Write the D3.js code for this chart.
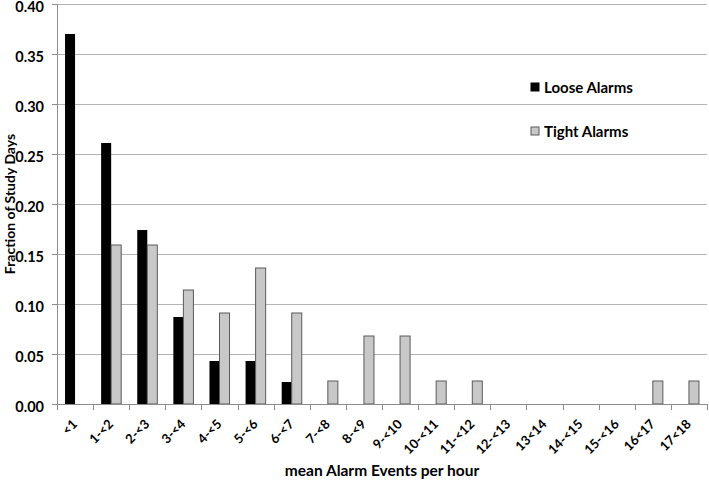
<!DOCTYPE html>
<html>
<head>
<meta charset="utf-8">
<script src="https://cdn.jsdelivr.net/npm/d3@7"></script>
<style>
  body { margin: 0; background: #fff; }
  text { font-family: Lato, "Open Sans", sans-serif; font-weight: bold; fill: #000; }
</style>
</head>
<body>
<script>
var categories = ["<1", "1-<2", "2-<3", "3-<4", "4-<5", "5-<6", "6-<7", "7-<8", "8-<9", "9-<10",
    "10-<11", "11-<12", "12-<13", "13<14", "14-<15", "15-<16", "16<17", "17<18"];
var looseAlarms = [0.370, 0.261, 0.174, 0.087, 0.043, 0.043, 0.022, 0, 0, 0, 0, 0, 0, 0, 0, 0, 0, 0];
var tightAlarms = [0, 0.159, 0.159, 0.114, 0.091, 0.136, 0.091, 0.023, 0.068, 0.068, 0.023, 0.023, 0, 0, 0, 0, 0.023, 0.023];
var seriesNames = ["Loose Alarms", "Tight Alarms"];
var yTicks = [0, 0.05, 0.10, 0.15, 0.20, 0.25, 0.30, 0.35, 0.40];

var margin = { top: 4, right: 2, bottom: 76, left: 57 },
    width = 709 - margin.left - margin.right,
    height = 480 - margin.top - margin.bottom;

var svg = d3.select("body").append("svg")
    .attr("width", 709)
    .attr("height", 480)
    .append("g")
    .attr("transform", "translate(" + margin.left + "," + margin.top + ")");

var xScale = d3.scaleBand().domain(categories).range([0, width]).paddingInner(0).paddingOuter(0);
var xSub = d3.scaleBand().domain(seriesNames).range([0, xScale.bandwidth()]).paddingInner(0).paddingOuter(0.8);
var yScale = d3.scaleLinear().domain([0, 0.4]).range([height, 0]);

// gridlines
svg.append("g").selectAll("line")
    .data(yTicks.slice(1))
    .enter().append("line")
    .attr("x1", 0).attr("x2", width)
    .attr("y1", function (d) { return Math.round(yScale(d)) + 0.5; })
    .attr("y2", function (d) { return Math.round(yScale(d)) + 0.5; })
    .style("stroke", "#b4b4b4");

// y axis
var yAxis = d3.axisLeft(yScale).tickValues(yTicks).tickFormat(d3.format(".2f")).tickSize(5).tickPadding(8);
var gy = svg.append("g").call(yAxis);
gy.select(".domain").style("stroke", "#8c8c8c");
gy.selectAll(".tick line").style("stroke", "#8c8c8c");
gy.selectAll(".tick text")
    .attr("dy", "0.5em")
    .style("font-size", "14.5px")
    .style("font-family", "Lato, sans-serif")
    .style("font-weight", "bold");

// bars
var data = categories.map(function (c, i) {
    return { cat: c, values: [looseAlarms[i], tightAlarms[i]] };
});
var groups = svg.append("g").selectAll("g")
    .data(data)
    .enter().append("g")
    .attr("transform", function (d) { return "translate(" + xScale(d.cat) + ",0)"; });

groups.selectAll("rect")
    .data(function (d) {
        return d.values.map(function (v, j) { return { name: seriesNames[j], value: v }; });
    })
    .enter().append("rect")
    .filter(function (d) { return d.value > 0; })
    .attr("x", function (d) { return xSub(d.name); })
    .attr("y", function (d) { return yScale(d.value); })
    .attr("width", xSub.bandwidth())
    .attr("height", function (d) { return height - yScale(d.value); })
    .style("fill", function (d) { return d.name == "Loose Alarms" ? "#000" : "#c8c8c8"; })
    .style("stroke", function (d) { return d.name == "Loose Alarms" ? "none" : "#5a5a5a"; })
    .style("stroke-width", 1);

// x axis
var xAxis = d3.axisBottom(xScale).tickSize(0).tickFormat("");
var gx = svg.append("g")
    .attr("transform", "translate(0," + height + ")")
    .call(xAxis);
gx.select(".domain").style("stroke", "#8c8c8c");
gx.selectAll(".tick").remove();

// category boundary ticks
gx.append("g").selectAll("line")
    .data(d3.range(categories.length + 1))
    .enter().append("line")
    .attr("x1", function (i) { return Math.round(i * xScale.step()) + 0.5; })
    .attr("x2", function (i) { return Math.round(i * xScale.step()) + 0.5; })
    .attr("y1", 0).attr("y2", 6)
    .style("stroke", "#8c8c8c");

gx.append("g").selectAll("text")
    .data(categories)
    .enter().append("text")
    .attr("text-anchor", "end")
    .attr("transform", function (d) {
        return "translate(" + (xScale(d) + xScale.bandwidth() / 2 + 3) + ",21) rotate(-45)";
    })
    .style("font-size", "13px")
    .text(function (d) { return d; });

// axis titles
svg.append("text")
    .attr("x", width / 2)
    .attr("y", height + 72)
    .attr("text-anchor", "middle")
    .style("font-size", "15.5px")
    .text("mean Alarm Events per hour");

svg.append("text")
    .attr("transform", "translate(" + (-42) + "," + (height / 2) + ") rotate(-90)")
    .attr("text-anchor", "middle")
    .style("font-size", "14px")
    .text("Fraction of Study Days");

// legend
var legend = svg.append("g").selectAll("g")
    .data(seriesNames)
    .enter().append("g")
    .attr("transform", function (d, i) { return "translate(" + (531 - margin.left) + "," + (83 - margin.top + i * 44) + ")"; });

legend.append("rect")
    .attr("width", 8).attr("height", 8)
    .style("fill", function (d, i) { return i == 0 ? "#000" : "#c8c8c8"; })
    .style("stroke", function (d, i) { return i == 0 ? "#000" : "#5a5a5a"; });

legend.append("text")
    .attr("x", 13)
    .attr("y", 10)
    .style("font-size", "15px")
    .text(function (d) { return d; });
</script>
</body>
</html>
